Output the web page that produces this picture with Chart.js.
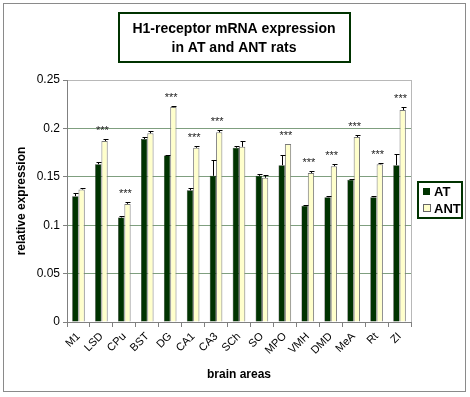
<!DOCTYPE html>
<html>
<head>
<meta charset="utf-8">
<script src="https://cdn.jsdelivr.net/npm/chart.js@4"></script>
<style>
html, body { margin: 0; padding: 0; background: #fff; }
</style>
</head>
<body>
<canvas id="grafico" width="470" height="397"></canvas>
<script>
const areas = ['M1', 'LSD', 'CPu', 'BST', 'DG', 'CA1', 'CA3', 'SCh', 'SO', 'MPO', 'VMH', 'DMD', 'MeA', 'Rt', 'ZI'];
const at = [0.130, 0.163, 0.108, 0.189, 0.172, 0.136, 0.151, 0.180, 0.151, 0.162, 0.120, 0.129, 0.147, 0.129, 0.162];
const atErr = [0.003, 0.002, 0.002, 0.002, 0.001, 0.002, 0.016, 0.002, 0.002, 0.011, 0.001, 0.001, 0.001, 0.001, 0.012];
const ant = [0.137, 0.187, 0.122, 0.195, 0.222, 0.180, 0.196, 0.181, 0.149, 0.184, 0.154, 0.161, 0.191, 0.163, 0.219];
const antErr = [0.001, 0.002, 0.002, 0.002, 0.001, 0.002, 0.002, 0.006, 0.003, 0.000, 0.002, 0.002, 0.002, 0.001, 0.003];
const signif = ['', '***', '***', '', '***', '***', '***', '', '', '***', '***', '***', '***', '***', '***'];
const yTicks = [0, 0.05, 0.1, 0.15, 0.2, 0.25];
const titulo = ['H1-receptor mRNA expression', 'in AT and ANT rats'];
const series = ['AT', 'ANT'];

const verdeEscuro = '#003300';
const creme = '#ffffcc';

// moldura, titulo, legenda, barras de erro e asteriscos
const extras = {
    id: 'extras',
    beforeDraw(chart) {
        const c = chart.ctx;
        c.save();
        c.fillStyle = '#fff';
        c.fillRect(0, 0, chart.width, chart.height);
        c.strokeStyle = '#8a8a8a';
        c.lineWidth = 1;
        c.strokeRect(3.5, 3.5, 462, 388);
        c.restore();
    },
    afterDraw(chart) {
        const c = chart.ctx;
        const area = chart.chartArea;
        const x = chart.scales.x;
        const y = chart.scales.y;
        c.save();

        // borda direita da area do grafico
        c.strokeStyle = '#b8b8b8';
        c.lineWidth = 1;
        c.beginPath();
        c.moveTo(Math.round(area.right) + 0.5, area.top);
        c.lineTo(Math.round(area.right) + 0.5, area.bottom);
        c.stroke();

        // barras de erro
        c.strokeStyle = '#000';
        c.lineWidth = 1;
        [[at, atErr], [ant, antErr]].forEach(([vals, errs], i) => {
            const meta = chart.getDatasetMeta(i);
            meta.data.forEach((bar, j) => {
                if (!errs[j]) return;
                const bx = Math.round(bar.x) + 0.5;
                const y0 = y.getPixelForValue(vals[j]);
                const y1 = Math.round(y.getPixelForValue(vals[j] + errs[j])) + 0.5;
                c.beginPath();
                c.moveTo(bx, y0);
                c.lineTo(bx, y1);
                c.moveTo(bx - 2, y1);
                c.lineTo(bx + 3, y1);
                c.stroke();
            });
        });

        // asteriscos
        c.fillStyle = '#222';
        c.font = '11px Arial, "Liberation Sans"';
        c.textAlign = 'center';
        c.textBaseline = 'alphabetic';
        signif.forEach((s, j) => {
            if (!s) return;
            const top = Math.max(at[j] + atErr[j], ant[j] + antErr[j]);
            c.fillText(s, x.getPixelForValue(j) + 1, y.getPixelForValue(top) - 5);
        });

        // titulo
        c.strokeStyle = verdeEscuro;
        c.lineWidth = 2;
        c.strokeRect(119, 13, 231, 49);
        c.fillStyle = '#000';
        c.font = 'bold 14px Arial, "Liberation Sans"';
        c.textBaseline = 'middle';
        c.fillText(titulo[0], 234, 29);
        c.fillText(titulo[1], 234, 48);

        // legenda
        c.strokeStyle = verdeEscuro;
        c.lineWidth = 2;
        c.strokeRect(418, 182, 44, 36);
        c.font = 'bold 13px Arial, "Liberation Sans"';
        c.textAlign = 'left';
        c.lineWidth = 1;
        c.fillStyle = verdeEscuro;
        c.fillRect(423, 188, 7, 7);
        c.fillStyle = creme;
        c.fillRect(423.5, 204.5, 7, 7);
        c.strokeStyle = '#666';
        c.strokeRect(423.5, 204.5, 7, 7);
        c.fillStyle = '#000';
        c.fillText(series[0], 434, 192);
        c.fillText(series[1], 434, 209);
        c.restore();
    }
};

new Chart(document.getElementById('grafico'), {
    type: 'bar',
    data: {
        labels: areas,
        datasets: [
            { label: series[0], data: at, backgroundColor: verdeEscuro, borderColor: '#1a1a1a', borderWidth: 0.5 },
            { label: series[1], data: ant, backgroundColor: creme, borderColor: '#7a7a7a', borderWidth: 1 }
        ]
    },
    options: {
        responsive: false,
        animation: false,
        categoryPercentage: 0.55,
        barPercentage: 1.0,
        layout: { padding: { left: 12, right: 59, top: 80, bottom: 11 } },
        plugins: {
            legend: { display: false },
            title: { display: false },
            tooltip: { enabled: false }
        },
        scales: {
            x: {
                afterFit: s => { s.height = 64; },
                grid: { offset: true, drawOnChartArea: false, tickLength: 5, color: '#808080' },
                border: { color: '#808080' },
                ticks: {
                    minRotation: 45, maxRotation: 45, autoSkip: false,
                    color: '#000', font: { family: 'Arial, "Liberation Sans"', size: 11 }
                },
                title: {
                    display: true, text: 'brain areas', color: '#000', padding: { top: 2 },
                    font: { family: 'Arial, "Liberation Sans"', size: 12, weight: 'bold' }
                }
            },
            y: {
                min: 0, max: 0.25,
                afterFit: s => { s.width = 55; },
                afterBuildTicks: s => { s.ticks = yTicks.map(v => ({ value: v })); },
                grid: {
                    tickLength: 4,
                    color: ctx => ctx.tick && ctx.tick.value === 0.25 ? '#b8b8b8' : '#7f9f7f',
                    tickColor: '#808080'
                },
                border: { color: '#808080' },
                ticks: {
                    padding: 3, color: '#000',
                    font: { family: 'Arial, "Liberation Sans"', size: 12 },
                    callback: v => String(+Number(v).toFixed(2))
                },
                title: {
                    display: true, text: 'relative expression', color: '#000', padding: 2,
                    font: { family: 'Arial, "Liberation Sans"', size: 12, weight: 'bold' }
                }
            }
        }
    },
    plugins: [extras]
});
</script>
</body>
</html>
